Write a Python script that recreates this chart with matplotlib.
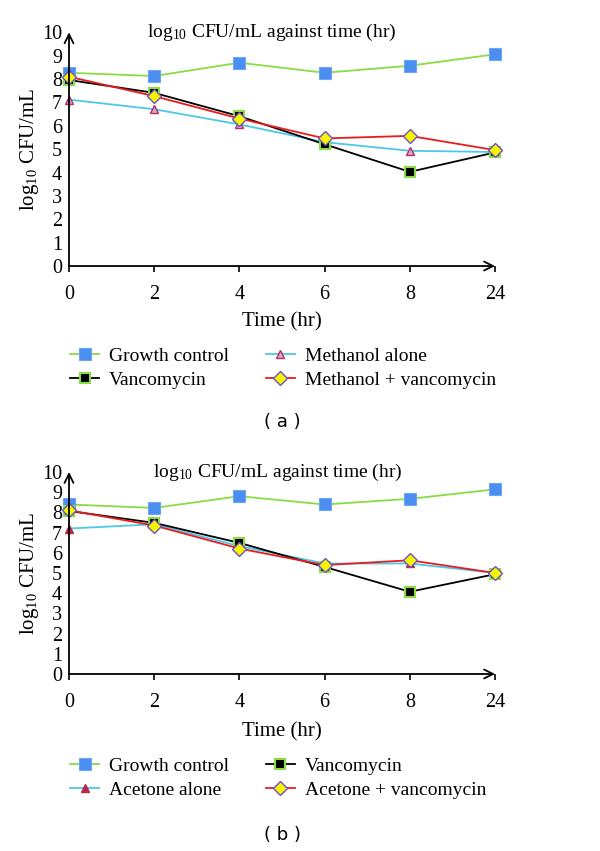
import matplotlib
matplotlib.use('Agg')
import matplotlib.pyplot as plt

plt.rcParams['font.family'] = ['Liberation Serif', 'DejaVu Serif']
plt.rcParams['mathtext.fontset'] = 'custom'
plt.rcParams['mathtext.rm'] = 'Liberation Serif'
plt.rcParams['mathtext.it'] = 'Liberation Serif:italic'

# Data
time_labels = ['0', '2', '4', '6', '8', '24']

# panel (a)
growth_a = [8.27, 8.13, 8.7, 8.27, 8.57, 9.06]
vanco_a = [7.96, 7.41, 6.41, 5.21, 4.03, 4.86]
meth_alone = [7.12, 6.71, 6.06, 5.3, 4.93, 4.88]
meth_vanco = [8.1, 7.27, 6.31, 5.46, 5.57, 4.96]

# panel (b)
growth_b = [8.39, 8.22, 8.8, 8.39, 8.67, 9.14]
vanco_b = [8.07, 7.48, 6.49, 5.3, 4.07, 4.94]
acet_alone = [7.2, 7.41, 6.33, 5.47, 5.47, 5.0]
acet_vanco = [8.1, 7.35, 6.21, 5.39, 5.63, 5.0]

x = list(range(len(time_labels)))

fig = plt.figure(figsize=(6, 8.51), dpi=100)
ax_a = fig.add_axes([0.115, 0.6874, 0.71, 0.2746])
ax_b = fig.add_axes([0.115, 0.208, 0.71, 0.2374])

title = r'log$_{\mathrm{10}}$ CFU/mL against time (hr)'
ylab = r'log$_{\mathrm{10}}$ CFU/mL'


def style_axis(ax, tx):
    ax.set_xlim(0, 5)
    ax.set_ylim(0, 10)
    for s in ax.spines.values():
        s.set_visible(False)
    ax.annotate('', xy=(0, 1.0), xytext=(0, 0), xycoords='axes fraction',
                arrowprops=dict(arrowstyle='->', lw=1.3, color='black',
                                shrinkA=0, shrinkB=0, mutation_scale=16))
    ax.annotate('', xy=(1.0, 0), xytext=(0, 0), xycoords='axes fraction',
                arrowprops=dict(arrowstyle='->', lw=1.3, color='black',
                                shrinkA=0, shrinkB=0, mutation_scale=16))
    ax.set_xticks(x)
    ax.set_xticklabels(time_labels, fontsize=14.5)
    ax.set_yticks(range(11))
    ax.set_yticklabels([str(i) for i in range(11)], fontsize=14.5)
    ax.tick_params(axis='x', length=4, width=1.2, pad=10)
    ax.tick_params(axis='y', length=0, pad=5)
    ax.set_ylabel(ylab, fontsize=15, labelpad=1)
    ax.text(tx, 10, title, fontsize=14, ha='center', va='center')


def draw(ax, growth, alone, vanco, combo, tri_face, tri_edge):
    h1, = ax.plot(x, growth, color='#88dd44', lw=1.3, marker='s', ms=8,
                  mfc='#4b8ef0', mec='#6aa6f5', mew=0.8, clip_on=False)
    h2, = ax.plot(x, alone, color='#4cc8e8', lw=1.3, marker='^', ms=6,
                  mfc=tri_face, mec=tri_edge, mew=1.0, clip_on=False)
    h3, = ax.plot(x, vanco, color='black', lw=1.3, marker='s', ms=7,
                  mfc='black', mec='#88dd44', mew=1.5, clip_on=False)
    h4, = ax.plot(x, combo, color='#e81c1c', lw=1.3, marker='D', ms=7,
                  mfc='#f5f500', mec='#7050c8', mew=1.0, clip_on=False)
    return h1, h2, h3, h4


leg_kw = dict(ncol=2, loc='upper left', frameon=False, fontsize=14,
              borderpad=0, borderaxespad=0, handlelength=1.5, handletextpad=0.5,
              columnspacing=1.9, labelspacing=0.35)

g, m, v, mv = draw(ax_a, growth_a, meth_alone, vanco_a, meth_vanco, '#d9a6d6', '#b03060')
style_axis(ax_a, 2.38)
fig.legend([g, v, m, mv], ['Growth control', 'Vancomycin', 'Methanol alone', 'Methanol + vancomycin'],
           bbox_to_anchor=(0.1167, 0.5922), **leg_kw)

g, a, v, av = draw(ax_b, growth_b, acet_alone, vanco_b, acet_vanco, '#b82848', '#b82848')
style_axis(ax_b, 2.45)
fig.legend([g, a, v, av], ['Growth control', 'Acetone alone', 'Vancomycin', 'Acetone + vancomycin'],
           bbox_to_anchor=(0.1167, 0.1105), **leg_kw)

fig.text(0.47, 1 - 322 / 851, 'Time (hr)', fontsize=15, ha='center', va='center')
fig.text(0.47, 1 - 732 / 851, 'Time (hr)', fontsize=15, ha='center', va='center')
fig.text(0.47, 1 - 422 / 851, '( a )', fontsize=13, ha='center', va='center', family='DejaVu Sans')
fig.text(0.47, 1 - 835 / 851, '( b )', fontsize=13, ha='center', va='center', family='DejaVu Sans')

fig.savefig('out.png', dpi=100)
